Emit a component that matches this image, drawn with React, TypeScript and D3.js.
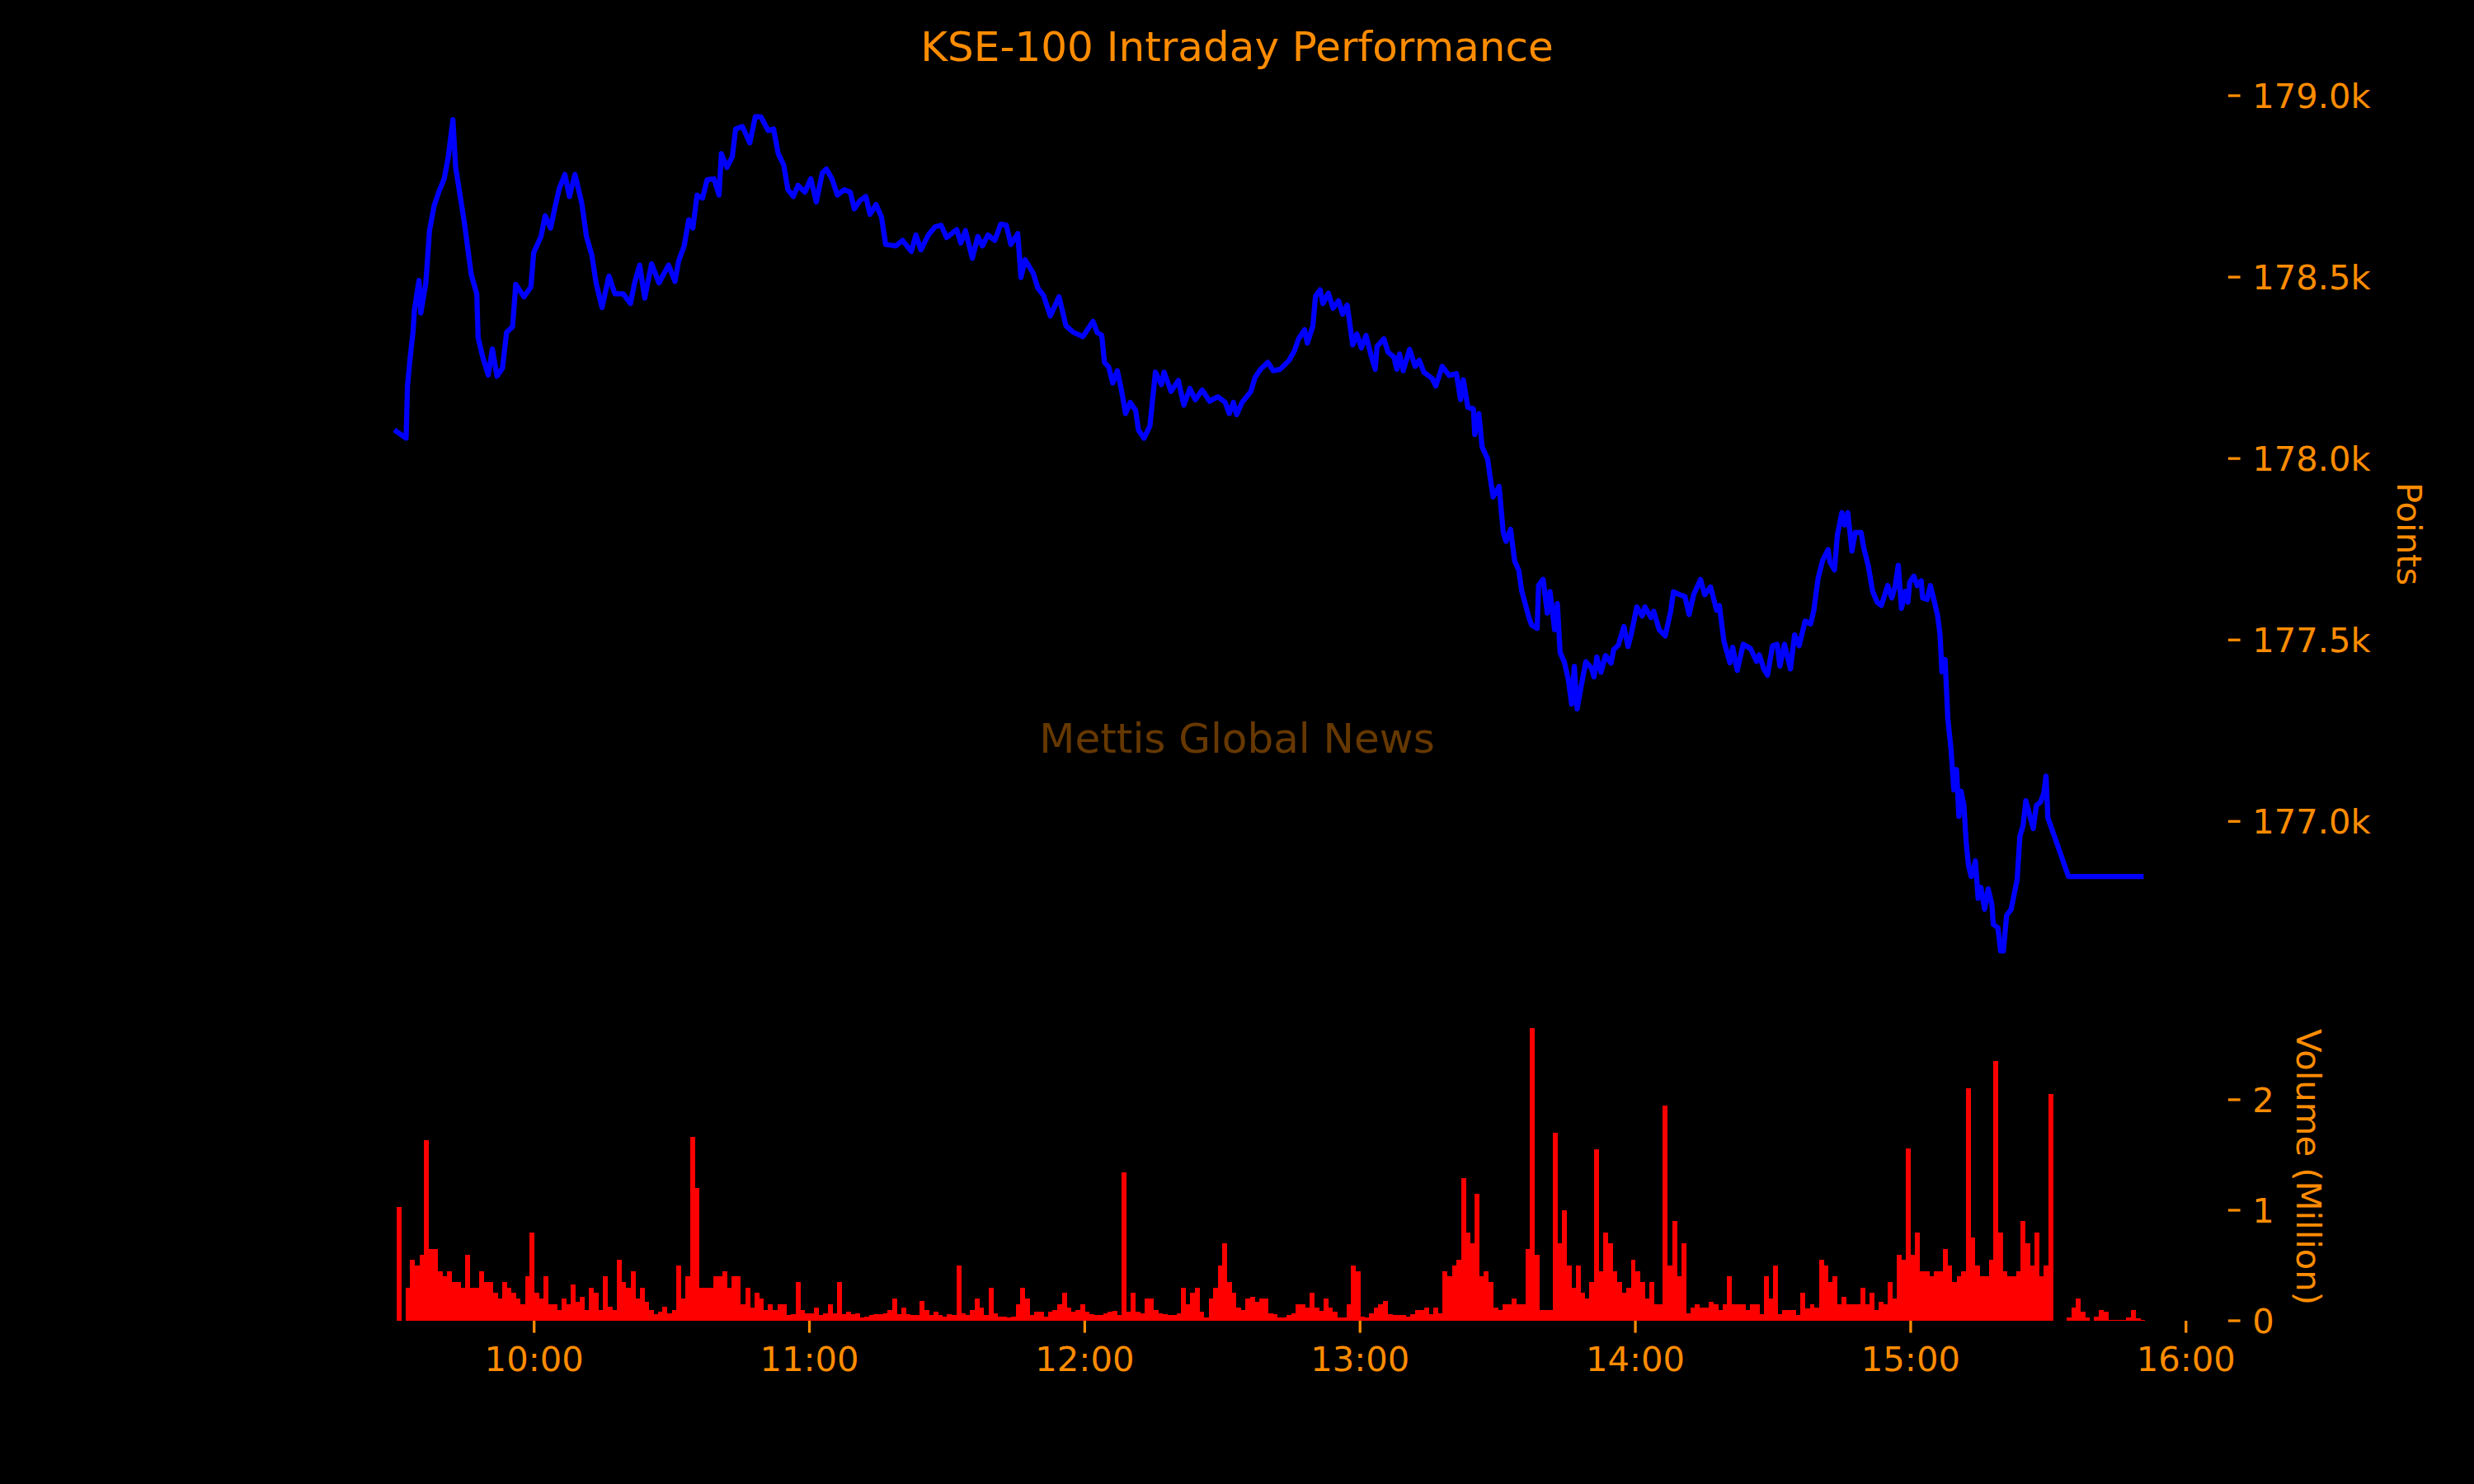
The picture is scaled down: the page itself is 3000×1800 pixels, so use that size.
import React, { useEffect, useRef } from 'react';
import * as d3 from 'd3';

// [minutes after 09:30, index points]
const priceSeries: [number, number][] = [
  [0, 178075], [2.1, 178056], [2.4, 178200], [3.0, 178280], [3.6, 178348], [3.9, 178408], [4.9, 178491], [5.3, 178401],
  [6.4, 178484], [7.2, 178628], [8.2, 178696], [9.2, 178734], [10.4, 178771], [11.3, 178832], [12.3, 178934], [12.9, 178802],
  [14.8, 178650], [16.3, 178507], [17.5, 178454], [17.8, 178333], [18.8, 178280], [20.0, 178230], [20.9, 178302], [21.9, 178227],
  [23.1, 178249], [24.0, 178348], [25.3, 178363], [26.0, 178480], [27.8, 178446], [29.3, 178473], [29.9, 178567], [31.5, 178612],
  [32.4, 178669], [33.6, 178635], [34.6, 178696], [35.5, 178745], [36.7, 178783], [37.7, 178722], [38.9, 178783], [40.4, 178703],
  [41.4, 178612], [42.6, 178560], [43.5, 178484], [44.8, 178416], [46.3, 178503], [47.6, 178454], [49.4, 178454], [51.0, 178427],
  [51.9, 178484], [53.0, 178533], [54.1, 178442], [55.6, 178537], [57.2, 178484], [59.3, 178533], [60.7, 178488], [61.5, 178545],
  [62.7, 178586], [63.7, 178658], [64.6, 178635], [65.5, 178726], [66.7, 178718], [67.7, 178768], [69.2, 178771], [70.3, 178726],
  [70.8, 178840], [72.0, 178802], [73.2, 178832], [73.9, 178908], [75.4, 178915], [77.0, 178870], [78.2, 178942], [79.4, 178942],
  [81.0, 178904], [82.2, 178908], [83.2, 178840], [84.4, 178809], [85.3, 178741], [86.5, 178722], [87.5, 178753], [89.0, 178734],
  [90.3, 178771], [91.5, 178707], [92.8, 178787], [93.7, 178798], [94.9, 178771], [96.1, 178726], [97.6, 178741], [98.9, 178734],
  [99.8, 178688], [101.0, 178711], [102.3, 178722], [103.2, 178673], [104.5, 178700], [105.7, 178666], [106.6, 178590], [108.8, 178586],
  [110.3, 178601], [112.2, 178571], [113.2, 178616], [114.3, 178575], [115.9, 178616], [117.4, 178639], [118.7, 178643], [119.9, 178609],
  [122.1, 178631], [123.0, 178594], [124.0, 178628], [125.5, 178552], [126.7, 178612], [127.7, 178586], [128.9, 178616], [130.4, 178601],
  [131.7, 178646], [132.9, 178643], [133.9, 178590], [135.4, 178620], [136.1, 178499], [137.0, 178548], [138.8, 178510], [139.8, 178469],
  [141.0, 178450], [142.5, 178393], [144.4, 178446], [145.9, 178366], [147.5, 178348], [149.6, 178336], [151.8, 178378], [152.7, 178348],
  [153.7, 178340], [154.3, 178265], [155.2, 178253], [156.1, 178208], [157.1, 178242], [158.0, 178189], [158.9, 178124], [159.9, 178155],
  [161.1, 178132], [161.7, 178079], [162.9, 178056], [164.2, 178090], [165.4, 178238], [166.7, 178204], [167.3, 178238], [168.8, 178185],
  [170.4, 178215], [171.6, 178147], [172.9, 178193], [174.1, 178162], [175.6, 178189], [177.2, 178158], [179.0, 178170], [180.6, 178155],
  [181.5, 178124], [182.4, 178155], [183.1, 178121], [184.3, 178155], [186.2, 178185], [187.1, 178223], [188.3, 178246], [189.9, 178265],
  [191.1, 178242], [192.6, 178246], [194.5, 178270], [195.7, 178297], [196.6, 178330], [197.9, 178355], [198.5, 178318], [199.7, 178364],
  [200.3, 178448], [201.3, 178465], [201.9, 178427], [203.1, 178456], [204.1, 178414], [205.3, 178435], [206.2, 178398], [207.2, 178423],
  [208.4, 178313], [209.3, 178343], [210.3, 178305], [211.3, 178339], [212.4, 178284], [213.3, 178246], [213.7, 178309], [215.2, 178330],
  [216.1, 178293], [217.4, 178280], [218.0, 178246], [218.6, 178288], [219.4, 178242], [220.8, 178301], [222.0, 178254], [222.9, 178271],
  [223.9, 178238], [225.7, 178221], [226.5, 178200], [227.9, 178254], [229.4, 178229], [231.0, 178234], [231.9, 178162], [232.5, 178217],
  [233.5, 178141], [234.7, 178137], [235.0, 178066], [235.9, 178124], [236.6, 178032], [237.8, 177999], [238.4, 177944], [239.0, 177894],
  [240.3, 177923], [241.2, 177797], [241.8, 177772], [242.8, 177805], [243.7, 177717], [244.6, 177692], [245.2, 177637], [246.8, 177562],
  [247.4, 177541], [248.6, 177532], [248.9, 177650], [249.9, 177667], [250.8, 177574], [251.4, 177633], [252.4, 177528], [253.0, 177600],
  [253.6, 177465], [254.5, 177440], [255.4, 177390], [256.1, 177323], [256.7, 177427], [257.3, 177310], [258.2, 177373], [259.2, 177440],
  [260.4, 177423], [261.0, 177398], [261.6, 177453], [262.5, 177411], [263.5, 177457], [264.7, 177436], [265.3, 177474], [266.3, 177486],
  [267.5, 177537], [268.4, 177482], [269.1, 177516], [270.3, 177591], [271.5, 177566], [272.1, 177591], [273.4, 177562], [274.0, 177579],
  [275.2, 177528], [276.5, 177511], [277.7, 177579], [278.3, 177633], [279.6, 177625], [280.8, 177620], [281.7, 177570], [282.7, 177625],
  [284.2, 177667], [285.1, 177625], [286.4, 177646], [287.7, 177582], [288.3, 177595], [289.3, 177497], [290.6, 177437], [291.2, 177480],
  [292.2, 177416], [293.5, 177488], [295.1, 177476], [296.4, 177441], [297.0, 177459], [298.0, 177420], [298.8, 177403], [299.9, 177484],
  [300.9, 177488], [301.5, 177428], [302.5, 177488], [303.8, 177420], [304.7, 177514], [305.7, 177484], [307.0, 177552], [308.2, 177544],
  [308.9, 177582], [309.8, 177668], [310.8, 177719], [312.0, 177749], [312.4, 177715], [313.4, 177693], [314.0, 177787], [315.0, 177851],
  [315.6, 177817], [316.3, 177851], [317.2, 177745], [317.9, 177796], [319.2, 177796], [319.8, 177753], [320.8, 177702], [321.7, 177634],
  [322.7, 177604], [323.6, 177595], [325.0, 177650], [325.9, 177616], [326.6, 177646], [327.3, 177706], [328.0, 177587], [328.8, 177634],
  [329.4, 177604], [329.8, 177660], [330.7, 177676], [331.4, 177650], [332.3, 177663], [332.6, 177616], [333.6, 177612], [334.3, 177650],
  [335.2, 177604], [335.9, 177565], [336.4, 177514], [336.8, 177412], [337.5, 177446], [338.1, 177283], [338.8, 177198], [339.4, 177087],
  [340.0, 177143], [340.5, 177014], [341.0, 177083], [341.6, 177044], [342.1, 176942], [342.6, 176878], [343.2, 176848], [344.1, 176891],
  [344.7, 176788], [345.3, 176818], [346.1, 176758], [346.9, 176814], [347.7, 176771], [348.0, 176716], [349.0, 176707], [349.6, 176643],
  [350.2, 176643], [350.9, 176741], [351.9, 176758], [352.5, 176796], [353.2, 176839], [353.8, 176959], [354.5, 176989], [355.1, 177057],
  [356.1, 177010], [356.7, 176980], [357.4, 177044], [358.3, 177053], [359.0, 177078], [359.5, 177125], [359.9, 177010], [364.4, 176848],
  [380.2, 176848],
];

// traded volume in millions, one bar per minute starting 09:30
const volumeMillions = [
  1.03, 0, 0.3, 0.55, 0.5, 0.6, 1.63, 0.65, 0.65, 0.45, 0.4, 0.45, 0.35, 0.35, 0.3, 0.6, 0.3, 0.3, 0.45, 0.35,
  0.35, 0.25, 0.2, 0.35, 0.3, 0.25, 0.2, 0.15, 0.4, 0.8, 0.25, 0.2, 0.4, 0.15, 0.15, 0.1, 0.2, 0.15, 0.33, 0.17,
  0.22, 0.1, 0.3, 0.25, 0.1, 0.4, 0.13, 0.1, 0.55, 0.35, 0.3, 0.45, 0.2, 0.3, 0.17, 0.1, 0.06, 0.08, 0.13, 0.07,
  0.1, 0.5, 0.2, 0.4, 1.66, 1.2, 0.3, 0.3, 0.3, 0.4, 0.4, 0.45, 0.3, 0.4, 0.4, 0.15, 0.3, 0.12, 0.25, 0.2,
  0.1, 0.15, 0.1, 0.15, 0.15, 0.05, 0.06, 0.35, 0.1, 0.07, 0.07, 0.12, 0.05, 0.07, 0.15, 0.07, 0.35, 0.06, 0.08, 0.06,
  0.07, 0.03, 0.04, 0.05, 0.06, 0.06, 0.07, 0.1, 0.2, 0.06, 0.12, 0.06, 0.05, 0.05, 0.18, 0.1, 0.05, 0.08, 0.05, 0.04,
  0.06, 0.05, 0.5, 0.07, 0.05, 0.1, 0.2, 0.12, 0.05, 0.3, 0.07, 0.04, 0.04, 0.03, 0.04, 0.15, 0.3, 0.2, 0.05, 0.08,
  0.08, 0.04, 0.08, 0.1, 0.15, 0.25, 0.12, 0.08, 0.1, 0.15, 0.08, 0.06, 0.05, 0.05, 0.07, 0.08, 0.09, 0.05, 1.34, 0.08,
  0.25, 0.08, 0.07, 0.2, 0.2, 0.1, 0.07, 0.06, 0.05, 0.05, 0.07, 0.3, 0.15, 0.25, 0.3, 0.08, 0.03, 0.2, 0.3, 0.5,
  0.7, 0.35, 0.25, 0.12, 0.1, 0.2, 0.22, 0.17, 0.2, 0.2, 0.07, 0.06, 0.03, 0.03, 0.05, 0.07, 0.15, 0.15, 0.12, 0.25,
  0.12, 0.09, 0.2, 0.12, 0.08, 0.03, 0.03, 0.15, 0.5, 0.45, 0.04, 0.03, 0.07, 0.12, 0.15, 0.18, 0.06, 0.05, 0.05, 0.05,
  0.04, 0.06, 0.1, 0.1, 0.12, 0.06, 0.12, 0.07, 0.45, 0.4, 0.5, 0.55, 1.29, 0.8, 0.7, 1.15, 0.4, 0.45, 0.35, 0.12,
  0.1, 0.15, 0.15, 0.2, 0.15, 0.15, 0.65, 2.65, 0.6, 0.1, 0.1, 0.1, 1.7, 0.7, 1.0, 0.5, 0.3, 0.5, 0.25, 0.2,
  0.35, 1.55, 0.45, 0.8, 0.7, 0.45, 0.35, 0.25, 0.3, 0.55, 0.45, 0.35, 0.2, 0.35, 0.15, 0.15, 1.95, 0.5, 0.9, 0.4,
  0.7, 0.07, 0.12, 0.15, 0.12, 0.12, 0.17, 0.15, 0.1, 0.15, 0.4, 0.15, 0.15, 0.15, 0.1, 0.15, 0.15, 0.06, 0.4, 0.2,
  0.5, 0.06, 0.1, 0.1, 0.1, 0.05, 0.25, 0.11, 0.15, 0.12, 0.55, 0.5, 0.35, 0.4, 0.15, 0.22, 0.15, 0.15, 0.15, 0.3,
  0.15, 0.25, 0.1, 0.17, 0.15, 0.35, 0.2, 0.6, 0.55, 1.56, 0.6, 0.8, 0.45, 0.45, 0.4, 0.45, 0.45, 0.65, 0.5, 0.35,
  0.4, 0.45, 2.1, 0.75, 0.5, 0.4, 0.4, 0.55, 2.35, 0.8, 0.45, 0.4, 0.4, 0.45, 0.9, 0.7, 0.5, 0.8, 0.4, 0.5,
  2.05, 0, 0, 0, 0.03, 0.12, 0.2, 0.08, 0.03, 0, 0.04, 0.1, 0.08, 0.01, 0.01, 0.01, 0.01, 0.03, 0.1, 0.02,
  0.01,
];

const hourLabels = ['10:00', '11:00', '12:00', '13:00', '14:00', '15:00', '16:00'];
const priceTicks = [177000, 177500, 178000, 178500, 179000];
const volumeTicks = [0, 1, 2];

const App = () => {
  const chartRef = useRef(null);

  useEffect(() => {
    drawChart();
  }, []);

  const drawChart = () => {
    const width = 3000;
    const height = 1800;
    const left = 375;
    const right = 2702;
    const priceTop = 91;
    const priceBottom = 1204;
    const volTop = 1229;
    const volBottom = 1602;
    const orange = '#FF8C00';
    const font = 'DejaVu Sans';
    const tickFont = 41.7;
    const tickLen = 14.6;

    d3.select(chartRef.current).select('svg').remove();

    const svg = d3
      .select(chartRef.current)
      .append('svg')
      .attr('width', width)
      .attr('height', height)
      .style('position', 'absolute')
      .style('left', '0px')
      .style('top', '0px')
      .style('background', '#000');

    svg.append('rect').attr('width', width).attr('height', height).attr('fill', '#000');

    const tExtent = d3.extent(priceSeries, (d) => d[0]) as [number, number];
    const tPad = (tExtent[1] - tExtent[0]) * 0.05;
    const xScale = d3.scaleLinear().domain([tExtent[0] - tPad, tExtent[1] + tPad]).range([left, right]);

    const pExtent = d3.extent(priceSeries, (d) => d[1]) as [number, number];
    const pPad = (pExtent[1] - pExtent[0]) * 0.05;
    const yPrice = d3.scaleLinear().domain([pExtent[0] - pPad, pExtent[1] + pPad]).range([priceBottom, priceTop]);

    const yVolume = d3.scaleLinear().domain([0, d3.max(volumeMillions) * 1.05]).range([volBottom, volTop]);

    // title and watermark
    svg
      .append('text')
      .attr('x', width / 2)
      .attr('y', 73.5)
      .attr('text-anchor', 'middle')
      .style('font-family', font)
      .style('font-size', '50px')
      .attr('fill', orange)
      .text('KSE-100 Intraday Performance');

    svg
      .append('text')
      .attr('x', width / 2)
      .attr('y', 913)
      .attr('text-anchor', 'middle')
      .style('font-family', font)
      .style('font-size', '50px')
      .attr('fill', orange)
      .attr('fill-opacity', 0.4)
      .text('Mettis Global News');

    // volume bars
    const barW = xScale(1) - xScale(0);
    svg
      .append('g')
      .selectAll('rect')
      .data(volumeMillions.map((v, i) => ({ t: i, v })).filter((d) => d.v > 0))
      .enter()
      .append('rect')
      .attr('x', (d) => xScale(d.t))
      .attr('width', barW + 0.4)
      .attr('y', (d) => yVolume(d.v))
      .attr('height', (d) => volBottom - yVolume(d.v))
      .attr('fill', '#FF0000')
      .attr('shape-rendering', 'crispEdges');

    // price line
    const priceLine = d3
      .line<[number, number]>()
      .x((d) => xScale(d[0]))
      .y((d) => yPrice(d[1]));

    svg
      .append('path')
      .datum(priceSeries)
      .attr('d', priceLine)
      .attr('fill', 'none')
      .attr('stroke', '#0000FF')
      .attr('stroke-width', 6.25)
      .attr('stroke-linejoin', 'round')
      .attr('stroke-linecap', 'square');

    // right axis for price
    const priceAxis = svg.append('g');
    priceTicks.forEach((p) => {
      const y = yPrice(p);
      priceAxis.append('line').attr('x1', right).attr('x2', right + tickLen).attr('y1', y).attr('y2', y).attr('stroke', orange).attr('stroke-width', 3.3);
      priceAxis
        .append('text')
        .attr('x', right + tickLen * 2)
        .attr('y', y + 15.2)
        .style('font-family', font)
        .style('font-size', `${tickFont}px`)
        .attr('fill', orange)
        .text(`${(p / 1000).toFixed(1)}k`);
    });
    priceAxis
      .append('text')
      .attr('transform', `translate(2922, ${(priceTop + priceBottom) / 2}) rotate(90)`)
      .attr('text-anchor', 'middle')
      .attr('dy', '0.35em')
      .style('font-family', font)
      .style('font-size', `${tickFont}px`)
      .attr('fill', orange)
      .text('Points');

    // right axis for volume
    const volAxis = svg.append('g');
    volumeTicks.forEach((v) => {
      const y = yVolume(v);
      volAxis.append('line').attr('x1', right).attr('x2', right + tickLen).attr('y1', y).attr('y2', y).attr('stroke', orange).attr('stroke-width', 3.3);
      volAxis
        .append('text')
        .attr('x', right + tickLen * 2)
        .attr('y', y + 15.2)
        .style('font-family', font)
        .style('font-size', `${tickFont}px`)
        .attr('fill', orange)
        .text(String(v));
    });
    volAxis
      .append('text')
      .attr('transform', `translate(2800, ${(volTop + volBottom) / 2}) rotate(90)`)
      .attr('text-anchor', 'middle')
      .attr('dy', '0.35em')
      .style('font-family', font)
      .style('font-size', `${tickFont}px`)
      .attr('fill', orange)
      .text('Volume (Million)');

    // time axis
    const timeAxis = svg.append('g');
    hourLabels.forEach((label) => {
      const [h, m] = label.split(':').map(Number);
      const x = xScale(h * 60 + m - 570);
      timeAxis.append('line').attr('x1', x).attr('x2', x).attr('y1', volBottom).attr('y2', volBottom + tickLen).attr('stroke', orange).attr('stroke-width', 3.3);
      timeAxis
        .append('text')
        .attr('x', x)
        .attr('y', 1663)
        .attr('text-anchor', 'middle')
        .style('font-family', font)
        .style('font-size', `${tickFont}px`)
        .attr('fill', orange)
        .text(label);
    });
  };

  return <div ref={chartRef}></div>;
};

export default App;
